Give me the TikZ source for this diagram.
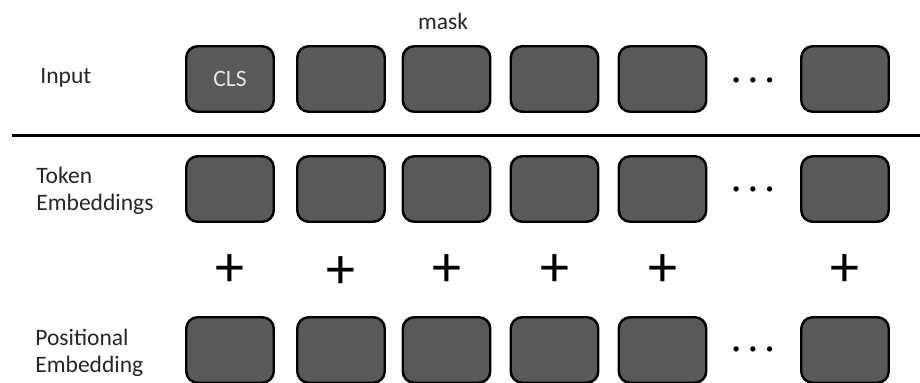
\documentclass[tikz,border=0pt]{standalone}
\usepackage{fontspec}
\setmainfont{Carlito}
\usepackage{tikz}
\usetikzlibrary{positioning}
\definecolor{tokfill}{HTML}{595959}
\definecolor{labtext}{HTML}{262626}

\tikzset{
  tok/.style={draw=black, line width=1.4pt, rounded corners=6.5pt, fill=tokfill,
    minimum width=1.75cm, minimum height=1.31cm, inner sep=0pt},
  lab/.style={anchor=west, align=left, text=labtext, inner sep=0pt, font=\fontsize{13.4}{15.6}\selectfont},
  plus/.style={text=black, font=\fontsize{33}{33}\selectfont, inner sep=0pt},
  more/.style={font=\fontsize{7}{7}\selectfont, inner sep=0pt}
}
\newcommand{\threedots}{$\bullet$\hspace{5.4pt}$\bullet$\hspace{5.4pt}$\bullet$}

\begin{document}
\begin{tikzpicture}
  \useasboundingbox (0,0) rectangle (18.4,7.66);

  % Input row
  \node[lab] (lin) at (0.8,6.1) {Input};
  \node[lab, anchor=center] (mask) at (8.86,7.24) {mask};
  \node[tok, text=white!90!black, font=\fontsize{13.4}{15.6}\selectfont] (i1) at (4.6,6.08) {CLS};
  \node[tok] (i2) at (6.82,6.08) {};
  \node[tok] (i3) at (8.93,6.08) {};
  \node[tok] (i4) at (11.09,6.08) {};
  \node[tok] (i5) at (13.25,6.08) {};
  \node[more] (idots) at (15.06,6.04) {\threedots};
  \node[tok] (i7) at (16.9,6.08) {};

  % separator
  \coordinate (sepl) at (0.24,4.94);
  \coordinate (sepr) at (18.4,4.94);
  \draw[line width=1.7pt] (sepl) -- (sepr);

  % Token embeddings
  \node[lab] (ltok) at (0.72,3.84) {Token\\Embeddings};
  \node[tok] (t1) at (4.6,3.88) {};
  \node[tok] (t2) at (6.82,3.88) {};
  \node[tok] (t3) at (8.93,3.88) {};
  \node[tok] (t4) at (11.09,3.88) {};
  \node[tok] (t5) at (13.25,3.88) {};
  \node[more] (tdots) at (15.06,3.86) {\threedots};
  \node[tok] (t7) at (16.9,3.88) {};

  % plus signs
  \node[plus] (p1) at (4.6,2.24) {+};
  \node[plus] (p2) at (6.82,2.2) {+};
  \node[plus] (p3) at (8.93,2.24) {+};
  \node[plus] (p4) at (11.09,2.24) {+};
  \node[plus] (p5) at (13.25,2.24) {+};
  \node[plus] (p7) at (16.9,2.24) {+};

  % Positional embedding
  \node[lab] (lpos) at (0.7,0.6) {Positional\\Embedding};
  \node[tok] (q1) at (4.6,0.66) {};
  \node[tok] (q2) at (6.82,0.66) {};
  \node[tok] (q3) at (8.93,0.66) {};
  \node[tok] (q4) at (11.09,0.66) {};
  \node[tok] (q5) at (13.25,0.66) {};
  \node[more] (qdots) at (15.06,0.66) {\threedots};
  \node[tok] (q7) at (16.9,0.66) {};
\end{tikzpicture}
\end{document}
